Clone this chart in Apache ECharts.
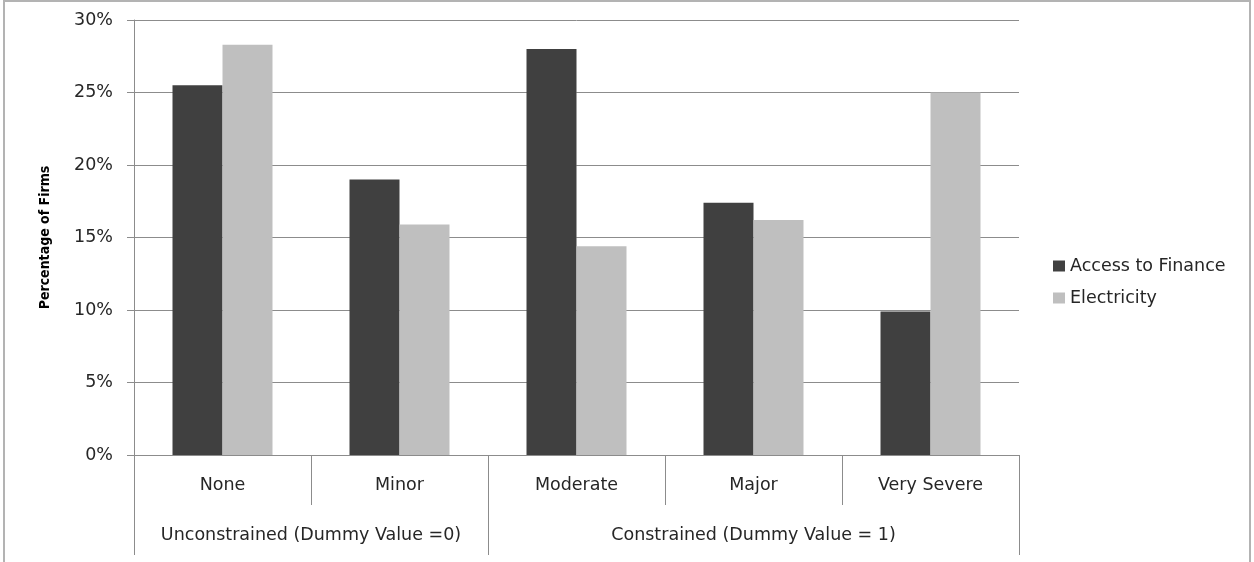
<!DOCTYPE html>
<html>
<head>
<meta charset="utf-8">
<script src="https://cdn.jsdelivr.net/npm/echarts@6/dist/echarts.min.js"></script>
<style>
html,body{margin:0;padding:0;background:#fff;}
#frame{position:absolute;left:3px;top:0;width:1248px;height:562px;border-top:2px solid #b3b3b3;border-left:2px solid #b3b3b3;border-right:2px solid #b3b3b3;box-sizing:border-box;pointer-events:none;}
#chart{position:absolute;left:0;top:0;width:1254px;height:562px;}
</style>
</head>
<body>
<div id="chart"></div>
<div id="frame"></div>
<script>
const categories = ['None', 'Minor', 'Moderate', 'Major', 'Very Severe'];
const groupLabels = ['Unconstrained (Dummy Value =0)', 'Constrained (Dummy Value = 1)'];
const groupBoundaries = [0, 2, 5];
const groupCenters = [1, 3.5];
const accessToFinance = [0.255, 0.190, 0.280, 0.174, 0.099];
const electricity = [0.283, 0.159, 0.144, 0.162, 0.250];

const FONT = 'DejaVu Sans';
const TEXT = '#262626';
const LINE = '#8c8c8c';
const FS = 17.5;

const chart = echarts.init(document.getElementById('chart'));
chart.setOption({
  animation: false,
  backgroundColor: '#fff',
  textStyle: { fontFamily: FONT },
  grid: { left: 134, right: 235, top: 20, bottom: 107, containLabel: false },
  legend: {
    orient: 'vertical',
    left: 1048,
    top: 252,
    itemWidth: 12,
    itemHeight: 11,
    itemGap: 14,
    icon: 'rect',
    textStyle: { fontFamily: FONT, fontSize: FS, color: TEXT },
    data: ['Access to Finance', 'Electricity']
  },
  xAxis: [
    {
      type: 'category',
      data: categories,
      position: 'bottom',
      axisLine: { show: true, lineStyle: { color: LINE, width: 1 } },
      axisTick: { show: true, interval: 0, length: 50, lineStyle: { color: LINE } },
      axisLabel: { interval: 0, margin: 21, fontFamily: FONT, fontSize: FS, color: TEXT },
      splitLine: { show: false }
    },
    {
      type: 'value',
      min: 0,
      max: 5,
      position: 'bottom',
      offset: 50,
      axisLine: { show: false },
      axisTick: { show: true, customValues: groupBoundaries, length: 50, lineStyle: { color: LINE } },
      axisLabel: {
        customValues: groupCenters,
        margin: 21,
        fontFamily: FONT, fontSize: FS, color: TEXT,
        formatter: function (v) { return groupLabels[groupCenters.indexOf(v)]; }
      },
      splitLine: { show: false }
    }
  ],
  yAxis: {
    type: 'value',
    min: 0,
    max: 0.3,
    interval: 0.05,
    name: 'Percentage of Firms',
    nameLocation: 'middle',
    nameGap: 82,
    nameTextStyle: { fontFamily: 'DejaVu Sans Condensed', fontWeight: 'bold', fontSize: 14, color: '#000' },
    axisLine: { show: true, lineStyle: { color: LINE } },
    axisTick: { show: true, length: 7, lineStyle: { color: LINE } },
    axisLabel: {
      margin: 21, fontFamily: FONT, fontSize: FS, color: TEXT,
      formatter: function (v) { return Math.round(v * 100) + '%'; }
    },
    splitLine: { show: true, lineStyle: { color: LINE, width: 1 } }
  },
  series: [
    {
      name: 'Access to Finance',
      type: 'bar',
      xAxisIndex: 0,
      data: accessToFinance,
      barGap: '0%',
      barCategoryGap: '43.5%',
      itemStyle: { color: '#404040' }
    },
    {
      name: 'Electricity',
      type: 'bar',
      xAxisIndex: 0,
      data: electricity,
      barGap: '0%',
      barCategoryGap: '43.5%',
      itemStyle: { color: '#bfbfbf' }
    }
  ]
});
</script>
</body>
</html>
